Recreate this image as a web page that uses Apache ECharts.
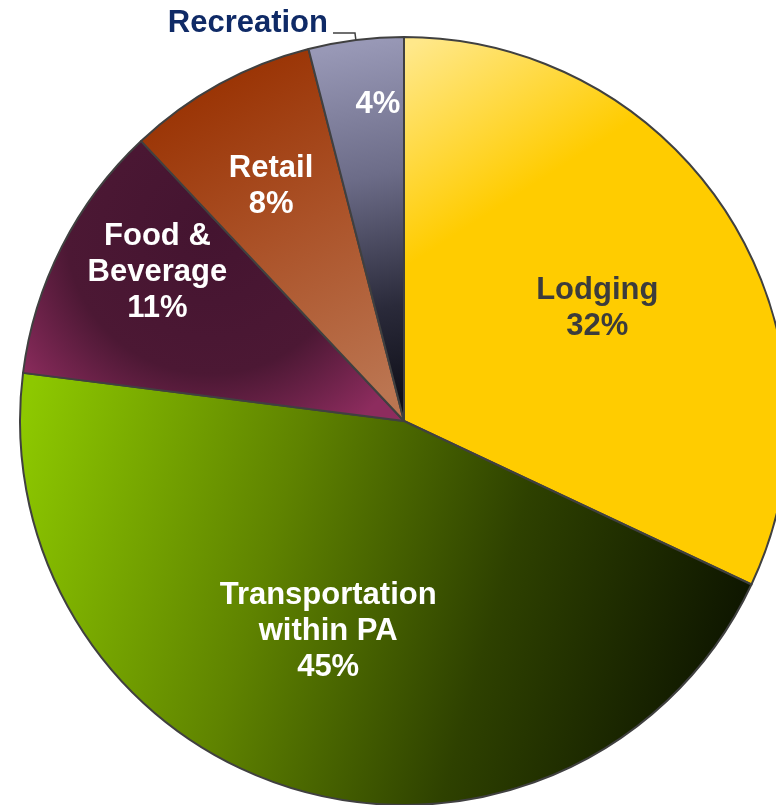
<!DOCTYPE html>
<html>
<head>
<meta charset="utf-8">
<script src="https://cdn.jsdelivr.net/npm/echarts@6/dist/echarts.min.js"></script>
<style>html,body{margin:0;padding:0;background:#fff}#c{width:776px;height:805px}</style>
</head>
<body>
<div id="c"></div>
<script>
// ---- data ----
var categories = ['Lodging', 'Transportation\nwithin PA', 'Food &\nBeverage', 'Retail', 'Recreation'];
var values = [32, 45, 11, 8, 4];
var insideLabels = ['Lodging\n32%', 'Transportation\nwithin PA\n45%', 'Food &\nBeverage\n11%', 'Retail\n8%', '4%'];

// ---- layout / style ----
var CX = 404, CY = 421, R = 384;
var labelRadius = [0.583, 0.583, 0.75, 0.703, 0.828];
var labelAngleShift = [2.1, 3.6, 4.1, -0.7, 2.5];
var labelColors = ['#3c3c3c', '#ffffff', '#ffffff', '#ffffff', '#ffffff'];

function lg(x1, y1, x2, y2, stops) {
  return new echarts.graphic.LinearGradient(x1, y1, x2, y2, stops, true);
}
function rg(x, y, r, stops) {
  return new echarts.graphic.RadialGradient(x, y, r, stops, true);
}
var fills = [
  lg(420, 40, 600, 320, [{offset: 0, color: '#ffe88a'}, {offset: 0.55, color: '#ffcc00'}, {offset: 1, color: '#ffcc00'}]),
  lg(20, 430, 770, 640, [{offset: 0, color: '#8dc800'}, {offset: 0.35, color: '#5f8300'}, {offset: 0.65, color: '#2e4100'}, {offset: 1, color: '#0a1000'}]),
  rg(210, 230, 240, [{offset: 0, color: '#441430'}, {offset: 0.6, color: '#4c1834'}, {offset: 1, color: '#8d2c5e'}]),
  lg(210, 60, 390, 390, [{offset: 0, color: '#983000'}, {offset: 0.5, color: '#ab5228'}, {offset: 1, color: '#bb7551'}]),
  lg(330, 50, 400, 420, [{offset: 0, color: '#9898b6'}, {offset: 0.35, color: '#6c6c88'}, {offset: 0.7, color: '#2a2a3a'}, {offset: 1, color: '#0a0a12'}])
];

var total = values.reduce(function (a, b) { return a + b; }, 0);
var midAngles = [];
(function () {
  var acc = 0;
  for (var i = 0; i < values.length; i++) {
    midAngles.push((acc + values[i] / 2) / total * 360);
    acc += values[i];
  }
})();

var chart = echarts.init(document.getElementById('c'), null, {renderer: 'canvas'});
var option = {
  animation: false,
  series: [
    {
      type: 'pie',
      center: [CX, CY],
      radius: R,
      startAngle: 90,
      clockwise: true,
      silent: true,
      avoidLabelOverlap: false,
      data: values.map(function (v, i) {
        return {
          name: categories[i],
          value: v,
          itemStyle: {color: fills[i]},
          label: {color: labelColors[i], formatter: insideLabels[i]}
        };
      }),
      itemStyle: {borderColor: '#404040', borderWidth: 2},
      label: {
        show: true,
        position: 'inside',
        fontFamily: 'Liberation Sans, Arial, sans-serif',
        fontWeight: 'bold',
        fontSize: 31,
        lineHeight: 36,
        align: 'center'
      },
      labelLine: {show: false},
      labelLayout: function (p) {
        var i = p.dataIndex;
        var a = (midAngles[i] + labelAngleShift[i]) * Math.PI / 180;
        var r = labelRadius[i] * R;
        return {x: CX + r * Math.sin(a), y: CY - r * Math.cos(a), align: 'center', verticalAlign: 'middle'};
      }
    },
    {
      type: 'pie',
      center: [CX, CY],
      radius: R,
      startAngle: 90,
      clockwise: true,
      silent: true,
      avoidLabelOverlap: false,
      itemStyle: {color: 'rgba(0,0,0,0)', borderWidth: 0},
      data: values.map(function (v, i) {
        var last = i === values.length - 1;
        return {
          name: categories[i],
          value: v,
          label: {show: last},
          labelLine: {show: last}
        };
      }),
      label: {
        position: 'outside',
        formatter: '{t|{b}}\n{s|}',
        color: '#0f2a66',
        fontFamily: 'Liberation Sans, Arial, sans-serif',
        fontWeight: 'bold',
        fontSize: 31,
        distanceToLabelLine: 5,
        rich: {
          t: {color: '#0f2a66', fontFamily: 'Liberation Sans, Arial, sans-serif', fontWeight: 'bold', fontSize: 31, lineHeight: 32},
          s: {height: 20, lineHeight: 20}
        }
      },
      labelLine: {
        length: 7,
        length2: 22,
        lineStyle: {color: '#404040', width: 1.5}
      }
    }
  ]
};
chart.setOption(option);
</script>
</body>
</html>
